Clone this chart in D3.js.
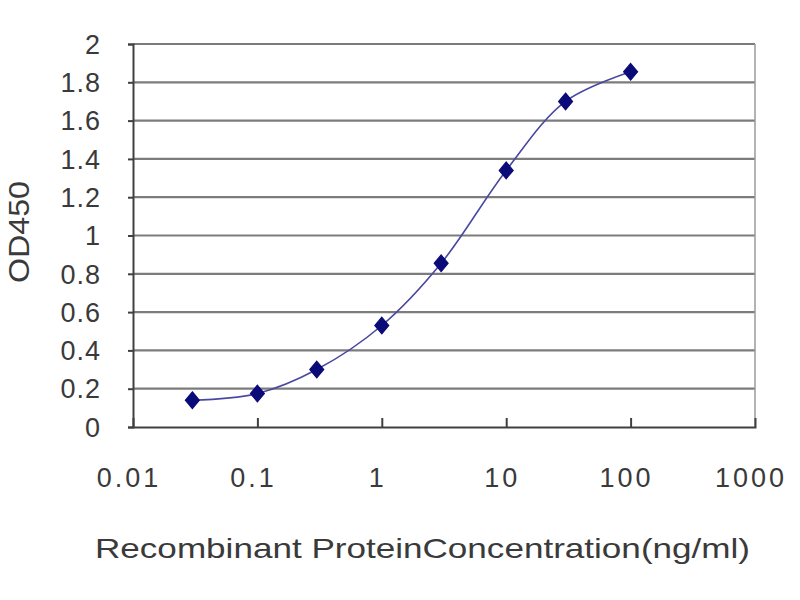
<!DOCTYPE html>
<html><head><meta charset="utf-8">
<script src="https://cdn.jsdelivr.net/npm/d3@7"></script>
<style>body{margin:0;background:#fff}svg{display:block}text{font-family:"Liberation Sans",Arial,sans-serif;fill:#3a3a3a}</style>
</head><body>
<script>
const concentrations = [0.03, 0.1, 0.3, 1, 3, 10, 30, 100];
const od450 = [0.14, 0.175, 0.30, 0.53, 0.855, 1.34, 1.70, 1.855];
const xTicks = [0.01, 0.1, 1, 10, 100, 1000];
const xTickLabels = ["0.01", "0.1", "1", "10", "100", "1000"];
const yTicks = [0, 0.2, 0.4, 0.6, 0.8, 1, 1.2, 1.4, 1.6, 1.8, 2];
const yTickLabels = ["0", "0.2", "0.4", "0.6", "0.8", "1", "1.2", "1.4", "1.6", "1.8", "2"];
const xTitle = "Recombinant ProteinConcentration(ng/ml)";
const yTitle = "OD450";

const W = 800, H = 600;
const L = 133, R = 755, T = 44, B = 427;
const svg = d3.select("body").append("svg").attr("width", W).attr("height", H);
const x = d3.scaleLog().domain([0.01, 1000]).range([L, R]);
const y = d3.scaleLinear().domain([0, 2]).range([B, T]);

// gridlines
svg.append("g").selectAll("line").data(yTicks.filter(d => d > 0)).join("line")
  .attr("x1", L).attr("x2", R).attr("y1", d => y(d)).attr("y2", d => y(d))
  .attr("stroke", "#7c7c7c").attr("stroke-width", 2.2);
// right border
svg.append("line").attr("x1", R).attr("x2", R).attr("y1", T).attr("y2", B)
  .attr("stroke", "#9a9a9a").attr("stroke-width", 1.5);

// axes
const xAxis = d3.axisBottom(x).tickValues(xTicks).tickSize(-9).tickFormat("");
const gx = svg.append("g").attr("transform", `translate(0,${B})`).call(xAxis);
gx.select(".domain").attr("stroke", "#404040").attr("stroke-width", 2);
gx.selectAll(".tick line").attr("stroke", "#404040").attr("stroke-width", 2);
gx.selectAll(".tick").filter(d => d === 0.01 || d === 1000).select("line").remove();

const yAxis = d3.axisLeft(y).tickValues(yTicks).tickSize(5).tickFormat("");
const gy = svg.append("g").attr("transform", `translate(${L},0)`).call(yAxis);
gy.select(".domain").attr("stroke", "#404040").attr("stroke-width", 2);
gy.selectAll(".tick line").attr("stroke", "#404040").attr("stroke-width", 2);

// tick labels
svg.append("g").selectAll("text").data(xTicks).join("text")
  .attr("x", d => x(d) - 4).attr("y", 487).attr("text-anchor", "middle")
  .style("font-size", "27px").style("letter-spacing", "3px")
  .text((d, i) => xTickLabels[i]);
svg.append("g").selectAll("text").data(yTicks).join("text")
  .attr("x", 101).attr("y", d => y(d)).attr("dy", "0.36em").attr("text-anchor", "end")
  .style("font-size", "27px").style("letter-spacing", "1px")
  .text((d, i) => yTickLabels[i]);

// titles
svg.append("text").attr("x", 95).attr("y", 558)
  .attr("textLength", 655).attr("lengthAdjust", "spacingAndGlyphs")
  .style("font-size", "28px").text(xTitle);
svg.append("text").attr("transform", "translate(29,232) rotate(-90)")
  .attr("text-anchor", "middle").attr("textLength", 102).attr("lengthAdjust", "spacingAndGlyphs")
  .style("font-size", "29px").text(yTitle);

// line
const pts = concentrations.map((c, i) => [c, od450[i]]);
const line = d3.line().x(d => x(d[0])).y(d => y(d[1])).curve(d3.curveCatmullRom.alpha(0.5));
svg.append("path").datum(pts).attr("d", line).attr("fill", "none")
  .attr("stroke", "#4848a0").attr("stroke-width", 1.6);

// markers
svg.append("g").selectAll("path").data(pts).join("path")
  .attr("d", d3.symbol(d3.symbolDiamond, 100)())
  .attr("fill", "#0a0a78").attr("stroke", "#0a0a78").attr("stroke-width", 1)
  .attr("transform", d => `translate(${x(d[0])},${y(d[1])}) scale(1.3,0.9)`);
</script>
</body></html>
